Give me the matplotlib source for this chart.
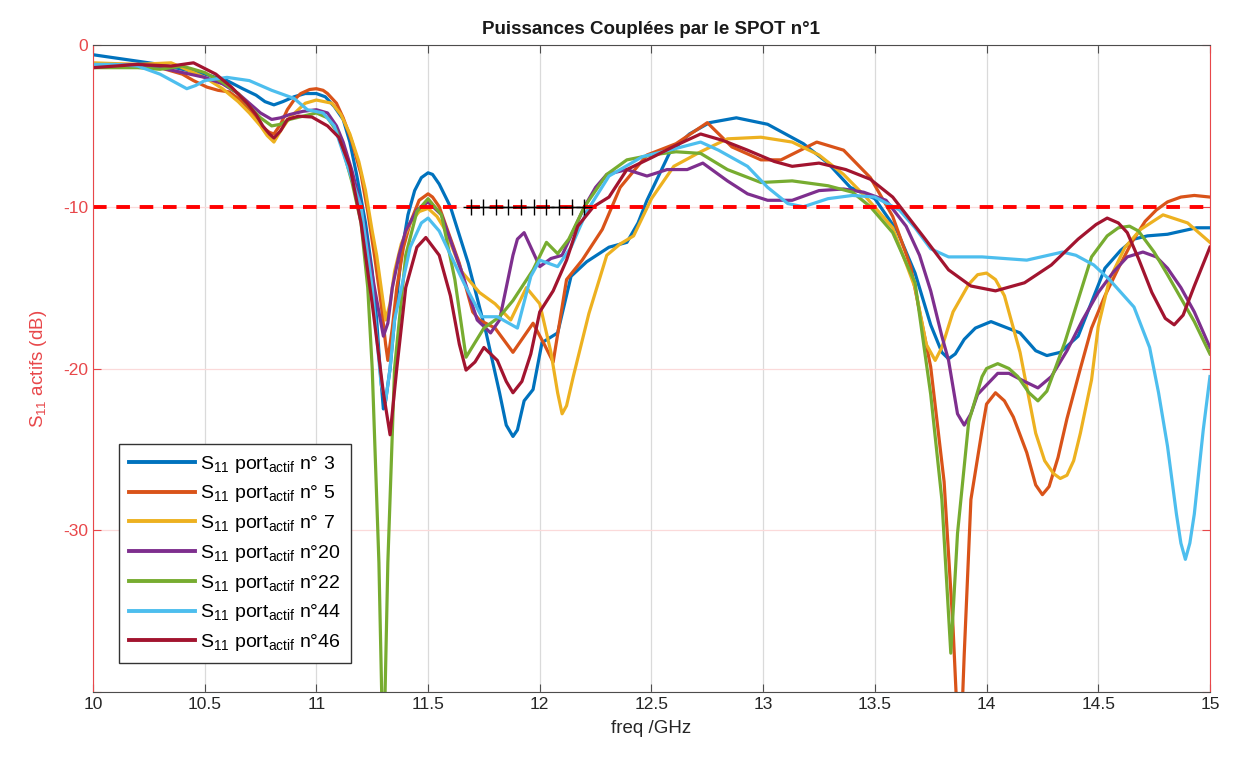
import matplotlib
matplotlib.use("Agg")
import matplotlib.pyplot as plt

plt.rcParams['font.family'] = ['Liberation Sans', 'DejaVu Sans']
plt.rcParams['mathtext.default'] = 'regular'

# S11 actif curves (freq in GHz, level in dB)
freq_p3 = [10.0, 10.1, 10.2, 10.3, 10.4, 10.5, 10.6, 10.67, 10.73, 10.77, 10.81, 10.85, 10.9, 10.95, 11.0, 11.04,
           11.08, 11.12, 11.15, 11.18, 11.22, 11.25, 11.27, 11.285, 11.3, 11.31, 11.33, 11.35, 11.38, 11.41, 11.44,
           11.47, 11.5, 11.52, 11.55, 11.6, 11.68, 11.76, 11.82, 11.85, 11.88, 11.9, 11.93, 11.97, 12.01, 12.08,
           12.14, 12.21, 12.31, 12.39, 12.44, 12.48, 12.58, 12.67, 12.76, 12.88, 13.02, 13.18, 13.29, 13.39, 13.5,
           13.6, 13.68, 13.75, 13.8, 13.83, 13.86, 13.9, 13.95, 14.02, 14.15, 14.22, 14.27, 14.33, 14.41, 14.53,
           14.6, 14.66, 14.72, 14.81, 14.94, 15.0]
s11_p3 = [-0.6, -0.8, -1.0, -1.2, -1.5, -1.8, -2.2, -2.7, -3.1, -3.5, -3.7, -3.5, -3.2, -3.0, -3.0, -3.2,
          -3.8, -4.6, -6.0, -8.0, -11.0, -14.0, -17.0, -20.0, -22.5, -22.0, -20.0, -17.0, -13.0, -10.5, -9.0,
          -8.2, -7.9, -8.0, -8.6, -10.0, -13.5, -17.8, -21.5, -23.5, -24.2, -23.8, -22.0, -21.3, -18.4, -17.8,
          -14.3, -13.4, -12.5, -12.2, -11.0, -9.6, -6.7, -5.5, -4.8, -4.5, -4.9, -6.1, -7.3, -8.8, -9.5,
          -11.5, -14.1, -17.3, -19.0, -19.4, -19.1, -18.2, -17.5, -17.1, -17.8, -18.9, -19.2, -19.0, -18.0, -13.8,
          -12.7, -12.0, -11.8, -11.7, -11.3, -11.3]

freq_p5 = [10.0, 10.1, 10.2, 10.3, 10.4, 10.45, 10.51, 10.56, 10.61, 10.66, 10.7, 10.73, 10.76, 10.79, 10.81,
           10.84, 10.87, 10.9, 10.93, 10.97, 11.0, 11.03, 11.05, 11.09, 11.12, 11.16, 11.2, 11.23, 11.26, 11.29,
           11.31, 11.32, 11.34, 11.36, 11.39, 11.42, 11.46, 11.5, 11.52, 11.55, 11.64, 11.7, 11.73, 11.8, 11.88,
           11.93, 11.97, 12.02, 12.06, 12.12, 12.19, 12.28, 12.36, 12.48, 12.61, 12.75, 12.86, 12.99, 13.08, 13.24,
           13.36, 13.48, 13.58, 13.66, 13.75, 13.81, 13.85, 13.88, 13.9, 13.93, 13.98, 14.0, 14.04, 14.08, 14.12,
           14.18, 14.22, 14.25, 14.28, 14.32, 14.36, 14.42, 14.47, 14.53, 14.59, 14.65, 14.71, 14.76, 14.81, 14.87,
           14.93, 15.0]
s11_p5 = [-1.3, -1.2, -1.2, -1.4, -1.8, -2.2, -2.6, -2.8, -2.9, -3.4, -4.0, -4.6, -5.1, -5.4, -5.5,
          -4.9, -4.0, -3.4, -3.0, -2.75, -2.7, -2.8, -3.0, -3.6, -4.5, -6.0, -8.0, -10.3, -13.0, -16.0,
          -18.5, -19.5, -17.5, -15.0, -12.5, -11.0, -9.6, -9.2, -9.4, -10.0, -13.5, -16.5, -17.0, -17.5, -19.0,
          -18.0, -17.2, -18.5, -19.6, -14.5, -13.3, -11.4, -8.8, -6.8, -6.1, -4.8, -6.3, -7.1, -7.1, -6.0,
          -6.5, -8.2, -10.6, -13.7, -19.9, -27.0, -36.0, -45.0, -37.7, -28.1, -23.8, -22.2, -21.5, -22.0, -23.0,
          -25.2, -27.2, -27.8, -27.3, -25.5, -23.1, -20.0, -17.5, -15.5, -13.8, -12.2, -10.9, -10.2, -9.7, -9.4,
          -9.3, -9.4]

freq_p7 = [10.0, 10.1, 10.2, 10.35, 10.5, 10.58, 10.65, 10.7, 10.75, 10.78, 10.81, 10.84, 10.88, 10.95, 11.0,
           11.07, 11.11, 11.15, 11.19, 11.22, 11.25, 11.27, 11.29, 11.31, 11.33, 11.35, 11.38, 11.42, 11.46, 11.5,
           11.54, 11.58, 11.65, 11.73, 11.8, 11.87, 11.94, 12.0, 12.05, 12.08, 12.1, 12.12, 12.15, 12.22, 12.3,
           12.36, 12.42, 12.5, 12.6, 12.72, 12.84, 12.99, 13.13, 13.25, 13.36, 13.46, 13.58, 13.68, 13.73, 13.77,
           13.8, 13.85, 13.92, 13.96, 14.0, 14.04, 14.08, 14.15, 14.22, 14.26, 14.3, 14.33, 14.36, 14.39, 14.42,
           14.47, 14.5, 14.55, 14.62, 14.69, 14.79, 14.9, 15.0]
s11_p7 = [-1.1, -1.15, -1.2, -1.1, -2.0, -2.7, -3.5, -4.2, -5.0, -5.6, -6.0, -5.3, -4.5, -3.6, -3.4,
          -3.6, -4.3, -5.5, -7.2, -9.0, -11.5, -13.0, -15.0, -17.0, -16.0, -14.0, -12.3, -11.0, -10.3, -10.1,
          -10.6, -11.5, -14.0, -15.3, -16.0, -17.0, -15.0, -16.0, -19.0, -21.5, -22.8, -22.3, -20.5, -16.6, -13.0,
          -12.3, -11.8, -9.5, -7.5, -6.6, -5.8, -5.7, -6.0, -6.8, -8.0, -9.4, -11.3, -15.0, -18.5, -19.5,
          -18.7, -16.5, -14.8, -14.2, -14.1, -14.5, -15.5, -19.0, -24.0, -25.7, -26.5, -26.8, -26.6, -25.7, -24.0,
          -20.7, -17.4, -14.5, -12.5, -11.4, -10.5, -11.0, -12.2]

freq_p20 = [10.0, 10.1, 10.2, 10.3, 10.4, 10.5, 10.58, 10.65, 10.7, 10.75, 10.8, 10.84, 10.88, 10.94, 11.0, 11.05,
            11.09, 11.12, 11.16, 11.2, 11.23, 11.26, 11.3, 11.32, 11.34, 11.37, 11.4, 11.45, 11.5, 11.56, 11.65,
            11.72, 11.78, 11.82, 11.85, 11.88, 11.9, 11.93, 11.96, 12.0, 12.05, 12.1, 12.15, 12.2, 12.25, 12.3,
            12.39, 12.48, 12.57, 12.66, 12.73, 12.84, 12.93, 13.02, 13.13, 13.25, 13.36, 13.45, 13.55, 13.64, 13.7,
            13.75, 13.8, 13.83, 13.87, 13.9, 13.93, 13.96, 14.05, 14.1, 14.17, 14.23, 14.29, 14.36, 14.43, 14.5,
            14.57, 14.63, 14.7, 14.76, 14.81, 14.87, 14.93, 15.0]
s11_p20 = [-1.3, -1.25, -1.2, -1.4, -1.7, -2.0, -2.4, -3.0, -3.6, -4.2, -4.6, -4.5, -4.3, -4.1, -4.0, -4.2,
           -5.0, -6.0, -7.8, -10.0, -12.5, -15.0, -18.0, -17.2, -15.0, -13.0, -11.5, -10.2, -9.7, -10.5, -14.0,
           -17.0, -17.8, -17.0, -15.0, -13.0, -12.0, -11.6, -12.5, -13.7, -13.2, -13.0, -11.5, -10.0, -8.8, -8.0,
           -7.7, -8.1, -7.7, -7.7, -7.3, -8.4, -9.2, -9.6, -9.6, -9.0, -8.9, -9.1, -9.6, -11.2, -13.0,
           -15.2, -18.0, -19.5, -22.8, -23.5, -22.8, -21.6, -20.3, -20.3, -20.8, -21.2, -20.5, -18.9, -17.0, -15.3,
           -14.0, -13.1, -12.8, -13.1, -13.8, -15.0, -16.5, -18.7]

freq_p22 = [10.0, 10.1, 10.2, 10.3, 10.4, 10.5, 10.58, 10.65, 10.7, 10.75, 10.8, 10.84, 10.88, 10.94, 11.0, 11.05,
            11.09, 11.12, 11.16, 11.2, 11.23, 11.25, 11.28, 11.3, 11.32, 11.35, 11.4, 11.45, 11.5, 11.56, 11.62,
            11.67, 11.75, 11.82, 11.88, 11.97, 12.03, 12.08, 12.13, 12.2, 12.3, 12.39, 12.5, 12.61, 12.72, 12.84,
            12.99, 13.13, 13.29, 13.4, 13.48, 13.58, 13.68, 13.75, 13.8, 13.84, 13.87, 13.92, 13.98, 14.0, 14.05,
            14.1, 14.14, 14.19, 14.23, 14.27, 14.35, 14.47, 14.54, 14.59, 14.64, 14.68, 14.75, 14.81, 14.93, 15.0]
s11_p22 = [-1.4, -1.4, -1.4, -1.5, -1.3, -1.7, -2.3, -3.0, -3.8, -4.5, -5.0, -4.9, -4.6, -4.4, -4.2, -4.5,
           -5.3, -6.5, -8.5, -11.0, -15.0, -20.0, -32.0, -45.0, -32.0, -20.0, -13.0, -10.3, -9.5, -10.5, -14.5,
           -19.3, -17.5, -16.8, -15.8, -13.9, -12.2, -12.9, -12.0, -10.0, -8.0, -7.1, -6.8, -6.6, -6.7, -7.7,
           -8.5, -8.4, -8.7, -9.1, -10.0, -11.6, -14.7, -21.6, -28.1, -37.6, -30.2, -23.3, -20.5, -20.0, -19.7,
           -20.0, -20.5, -21.5, -22.0, -21.4, -18.4, -13.1, -11.8, -11.3, -11.2, -11.5, -12.8, -14.2, -17.1, -19.1]

freq_p44 = [10.0, 10.1, 10.2, 10.3, 10.38, 10.42, 10.46, 10.5, 10.6, 10.7, 10.8, 10.9, 10.96, 11.03, 11.08, 11.14,
            11.2, 11.25, 11.29, 11.31, 11.33, 11.35, 11.42, 11.47, 11.5, 11.55, 11.66, 11.74, 11.81, 11.9, 11.96,
            12.0, 12.08, 12.14, 12.21, 12.31, 12.46, 12.58, 12.72, 12.8, 12.93, 13.02, 13.11, 13.18, 13.29, 13.4,
            13.5, 13.61, 13.68, 13.75, 13.83, 13.98, 14.18, 14.34, 14.4, 14.48, 14.55, 14.66, 14.73, 14.77, 14.81,
            14.85, 14.87, 14.89, 14.91, 14.93, 14.97, 15.0]
s11_p44 = [-1.2, -1.2, -1.3, -1.8, -2.4, -2.7, -2.5, -2.2, -2.0, -2.2, -2.8, -3.3, -4.0, -4.2, -5.0, -7.5,
           -10.0, -15.0, -21.0, -22.0, -20.0, -17.0, -12.5, -11.0, -10.7, -11.5, -14.7, -16.8, -16.8, -17.5, -14.3,
           -13.3, -13.7, -12.5, -10.3, -8.1, -6.9, -6.5, -6.0, -6.5, -7.5, -8.8, -9.8, -10.0, -9.5, -9.3,
           -9.4, -10.2, -11.3, -12.6, -13.1, -13.1, -13.3, -12.8, -13.0, -13.6, -14.5, -16.2, -18.7, -21.5, -24.8,
           -29.0, -30.8, -31.8, -30.8, -29.0, -23.8, -20.5]

freq_p46 = [10.0, 10.1, 10.2, 10.35, 10.45, 10.55, 10.62, 10.69, 10.73, 10.76, 10.79, 10.81, 10.84, 10.87, 10.92,
            10.98, 11.05, 11.1, 11.15, 11.2, 11.25, 11.3, 11.33, 11.36, 11.4, 11.45, 11.49, 11.55, 11.6, 11.64,
            11.67, 11.71, 11.75, 11.81, 11.85, 11.88, 11.92, 11.96, 12.0, 12.06, 12.12, 12.17, 12.24, 12.31, 12.39,
            12.51, 12.61, 12.72, 12.82, 12.93, 13.05, 13.13, 13.25, 13.37, 13.48, 13.58, 13.72, 13.83, 13.93, 14.04,
            14.17, 14.29, 14.41, 14.49, 14.54, 14.59, 14.63, 14.68, 14.74, 14.8, 14.84, 14.88, 14.93, 15.0]
s11_p46 = [-1.4, -1.3, -1.2, -1.3, -1.1, -1.8, -2.6, -3.6, -4.3, -5.0, -5.5, -5.75, -5.3, -4.6, -4.4,
           -4.45, -5.0, -5.7, -7.5, -11.0, -16.0, -21.5, -24.1, -20.0, -15.0, -12.5, -11.9, -13.0, -15.5, -18.5,
           -20.1, -19.6, -18.7, -19.5, -20.8, -21.5, -20.8, -19.1, -16.5, -15.2, -13.3, -11.2, -10.0, -9.4, -7.7,
           -6.9, -6.2, -5.5, -5.9, -6.5, -7.2, -7.5, -7.3, -7.7, -8.3, -9.4, -11.9, -13.9, -14.9, -15.2,
           -14.7, -13.6, -12.0, -11.1, -10.7, -11.0, -11.6, -13.2, -15.3, -16.9, -17.3, -16.7, -14.9, -12.5]

ports = ['n° 3', 'n° 5', 'n° 7', 'n°20', 'n°22', 'n°44', 'n°46']
colors = ['#0072BD', '#D95319', '#EDB120', '#7E2F8E', '#77AC30', '#4DBEEE', '#A2142F']
freqs = [freq_p3, freq_p5, freq_p7, freq_p20, freq_p22, freq_p44, freq_p46]
levels = [s11_p3, s11_p5, s11_p7, s11_p20, s11_p22, s11_p44, s11_p46]

# -10 dB threshold and the black marked band
threshold = -10
band_freq = [11.69, 11.747, 11.803, 11.86, 11.917, 11.973, 12.03, 12.087, 12.143, 12.2]

fig = plt.figure(figsize=(12.33, 7.58), dpi=100)
ax = fig.add_axes([0.0754, 0.0871, 0.9059, 0.8535])

for f, s, c, p in zip(freqs, levels, colors, ports):
    ax.plot(f, s, color=c, lw=2.3, solid_joinstyle='round', label=r'S$_{11}$ port$_{actif}$ ' + p)

ax.axhline(threshold, color='#FF0000', lw=2.8, ls=(0, (3.5, 2.5)))
ax.plot(band_freq, [threshold] * len(band_freq), color='black', lw=1.0,
        marker='+', markersize=12, markeredgewidth=1.0)

ax.set_xlim(10, 15)
ax.set_ylim(-40, 0)
ax.set_xticks([10, 10.5, 11, 11.5, 12, 12.5, 13, 13.5, 14, 14.5, 15])
ax.set_xticklabels(['10', '10.5', '11', '11.5', '12', '12.5', '13', '13.5', '14', '14.5', '15'])
ax.set_yticks([-40, -30, -20, -10, 0])
ax.set_yticklabels(['', '-30', '-20', '-10', '0'])

ax.xaxis.grid(True, color='#DADADA', lw=0.9)
ax.yaxis.grid(True, color='#FBDADA', lw=0.9)
ax.set_axisbelow(True)

red = '#E8474A'
for side in ['left', 'right']:
    ax.spines[side].set_color(red)
for side in ['top', 'bottom']:
    ax.spines[side].set_color('#4D4D4D')
ax.tick_params(axis='both', direction='in', top=True, right=True, length=6, labelsize=12.5)
ax.tick_params(axis='y', colors=red, labelcolor=red)
ax.tick_params(axis='x', colors='#4D4D4D', labelcolor='#262626')

ax.set_xlabel('freq /GHz', fontsize=13.5, color='#262626', labelpad=6)
ax.set_ylabel(r'S$_{11}$ actifs (dB)', fontsize=13.5, color=red, labelpad=10)
ax.set_title('Puissances Couplées par le SPOT n°1', fontsize=13.5, fontweight='bold', color='#1A1A1A', pad=8)

leg = ax.legend(loc='lower left', bbox_to_anchor=(0.015, 0.03), fontsize=14, frameon=True, fancybox=False,
                edgecolor='#333333', framealpha=1, handlelength=3.4, handletextpad=0.25,
                labelspacing=0.45, borderpad=0.5)
leg.get_frame().set_linewidth(1.0)
for line in leg.get_lines():
    line.set_linewidth(2.8)

fig.savefig('out.png', dpi=100)
